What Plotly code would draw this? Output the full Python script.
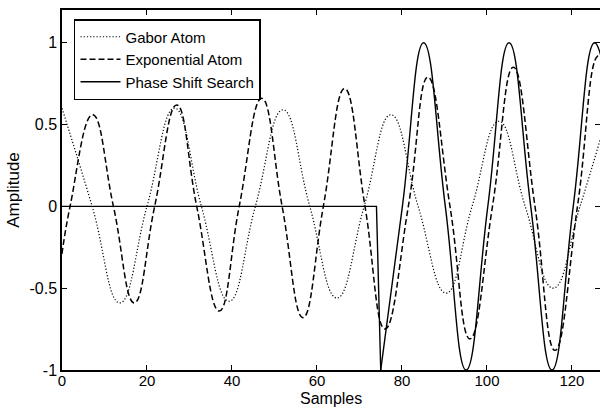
import plotly.graph_objects as go

# ---- data ----
gabor_x = [0, 7.1, 13.6, 20.0, 26.5, 32.8, 39.3, 45.5, 52.0, 58.3, 64.7, 71.1,
           77.4, 83.8, 90.4, 96.5, 102.8, 109.0, 115.6, 121.9, 127]
gabor_y = [0.60, 0, -0.59, 0, 0.60, 0, -0.58, 0, 0.59, 0, -0.56, 0,
           0.56, 0, -0.53, 0, 0.52, 0, -0.50, 0, 0.44]

expo_x = [0, 1.9, 7.2, 12.1, 17.0, 21.8, 27.0, 31.7, 37.0, 41.7, 47.0, 51.8,
          56.7, 61.5, 66.5, 71.3, 76.0, 81.5, 86.1, 91.3, 96.0, 101.3, 106.2,
          111.3, 116.0, 121.3, 126.1, 127]
expo_y = [-0.29, 0, 0.56, 0, -0.59, 0, 0.62, 0, -0.64, 0, 0.66, 0,
          -0.68, 0, 0.72, 0, -0.75, 0, 0.79, 0, -0.81, 0, 0.85,
          0, -0.88, 0, 0.92, 0.91]

phase_flat_x = [0, 74, 75]
phase_flat_y = [0, 0, -1]
phase_osc_x = [75, 80.1, 85.1, 90.2, 95.1, 100.2, 105.2, 110.3, 115.3, 120.3, 125.3, 127]
phase_osc_y = [-1, 0, 1, 0, -1, 0, 1, 0, -1, 0, 1, 0.9]

x_ticks = [0, 20, 40, 60, 80, 100, 120]
x_tick_text = ["0", "20", "40", "60", "80", "100", "120"]
y_ticks = [1, 0.5, 0, -0.5, -1]
y_tick_text = ["1", "0.5", "0", "-0.5", "-1"]
x_title = "Samples"
y_title = "Amplitude"

FONT = "Liberation Sans, Arial, Helvetica, sans-serif"

fig = go.Figure()
fig.add_trace(go.Scatter(x=gabor_x, y=gabor_y, mode="lines", name="Gabor Atom",
                         line=dict(color="black", width=1.2, dash="1.2px,2px",
                                   shape="spline", smoothing=1.3)))
fig.add_trace(go.Scatter(x=expo_x, y=expo_y, mode="lines", name="Exponential Atom",
                         line=dict(color="black", width=1.5, dash="6px,3px",
                                   shape="spline", smoothing=1.3)))
fig.add_trace(go.Scatter(x=phase_flat_x, y=phase_flat_y, mode="lines",
                         legendgroup="ps", showlegend=False,
                         line=dict(color="black", width=1.4)))
fig.add_trace(go.Scatter(x=phase_osc_x, y=phase_osc_y, mode="lines",
                         name="Phase Shift Search", legendgroup="ps",
                         line=dict(color="black", width=1.4,
                                   shape="spline", smoothing=1.3)))
# invisible trace to carry right-side ticks
fig.add_trace(go.Scatter(x=[0], y=[0], yaxis="y2", mode="lines", showlegend=False,
                         hoverinfo="skip", line=dict(color="rgba(0,0,0,0)")))

fig.update_layout(
    width=600, height=409,
    margin=dict(l=62, r=0, t=10, b=39),
    paper_bgcolor="white", plot_bgcolor="white",
    font=dict(family=FONT, size=16, color="black"),
    showlegend=True,
    legend=dict(x=0.0223, y=0.975, xanchor="left", yanchor="top",
                bordercolor="black", borderwidth=1.5, bgcolor="white",
                font=dict(family=FONT, size=15), tracegroupgap=0,
                itemwidth=40),
    xaxis=dict(range=[0, 126.6], tickvals=x_ticks, ticktext=x_tick_text,
               ticks="inside", ticklen=5, tickwidth=1, tickcolor="black",
               showline=True, linecolor="black", linewidth=1.5, mirror="ticks",
               showgrid=False, zeroline=False, ticklabelstandoff=-4,
               tickfont=dict(size=15)),
    yaxis=dict(range=[-1, 1.2], tickvals=y_ticks, ticktext=y_tick_text,
               ticks="inside", ticklen=5, tickwidth=1, tickcolor="black",
               showline=True, linecolor="black", linewidth=1.5,
               showgrid=False, zeroline=False,
               title=dict(text=y_title, standoff=6, font=dict(size=17)),
               tickfont=dict(size=16)),
    yaxis2=dict(range=[-1, 1.2], overlaying="y", side="right", tickvals=y_ticks,
                ticks="inside", ticklen=5, tickwidth=1, tickcolor="black",
                showticklabels=False, showline=False, showgrid=False, zeroline=False),
    annotations=[dict(text=x_title, xref="paper", yref="paper", x=0.5, y=-0.108,
                      xanchor="center", yanchor="bottom", showarrow=False,
                      font=dict(family=FONT, size=16, color="black"))],
)

fig.write_html("out.html")
